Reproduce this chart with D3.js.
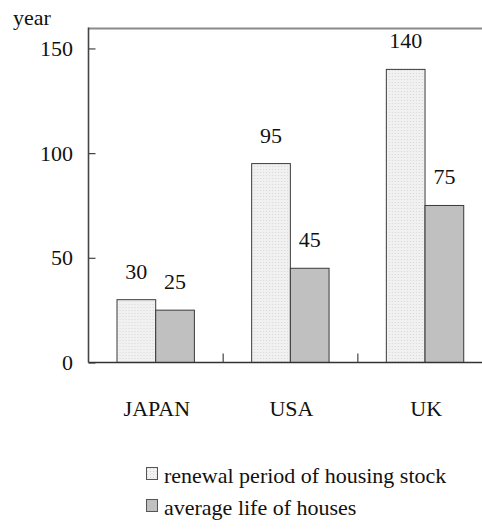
<!DOCTYPE html>
<html>
<head>
<meta charset="utf-8">
<script src="https://cdn.jsdelivr.net/npm/d3@7"></script>
<style>
  html, body { margin: 0; padding: 0; background: #fff; }
  svg { display: block; }
</style>
</head>
<body>
<svg id="chart" width="482" height="529" font-family="Liberation Serif" font-size="22"></svg>
<script>
// Housing renewal vs. average life, in years
const countries = ["JAPAN", "USA", "UK"];
const seriesNames = ["renewal period of housing stock", "average life of houses"];
const renewalPeriod = [30, 95, 140];
const averageLife = [25, 45, 75];
const yTicks = [0, 50, 100, 150];

const FONT = "Liberation Serif";

const svg = d3.select("#chart");

const plot = { left: 88.5, right: 492.5, top: 27.5, bottom: 362.5 };

const y = d3.scaleLinear().domain([0, 160]).range([plot.bottom, plot.top]);
const x0 = d3.scaleBand().domain(countries).range([plot.left, plot.right]);
const x1 = d3.scaleBand().domain(seriesNames).range([28.5, 28.5 + 77.4]);

// dotted fill for the renewal bars
const defs = svg.append("defs");
const pat = defs.append("pattern")
  .attr("id", "dots").attr("patternUnits", "userSpaceOnUse")
  .attr("width", 3).attr("height", 3);
pat.append("rect").attr("width", 3).attr("height", 3).attr("fill", "#f1f1f1");
pat.append("rect").attr("x", 1).attr("y", 1).attr("width", 1).attr("height", 1).attr("fill", "#d6d6d6");

const fills = ["url(#dots)", "#c0c0c0"];

function label(sel) {
  return sel.style("font-family", FONT, "important").style("font-size", "22px", "important").attr("fill", "#111");
}

// top frame line
svg.append("line")
  .attr("x1", plot.left).attr("x2", 482)
  .attr("y1", plot.top + 1).attr("y2", plot.top + 1)
  .attr("stroke", "#8a8a8a").attr("stroke-width", 2);

// bars
const rows = countries.map((c, i) => ({ country: c, values: [renewalPeriod[i], averageLife[i]] }));
const groups = svg.append("g").selectAll("g").data(rows).join("g")
  .attr("transform", d => `translate(${x0(d.country)},0)`);

groups.selectAll("rect").data(d => d.values.map((v, k) => ({ v, k }))).join("rect")
  .attr("x", d => x1(seriesNames[d.k]))
  .attr("y", d => y(d.v))
  .attr("width", x1.bandwidth())
  .attr("height", d => y(0) - y(d.v))
  .attr("fill", d => fills[d.k])
  .attr("stroke", "#3a3a3a").attr("stroke-width", 1);

groups.selectAll("text.val").data(d => d.values.map((v, k) => ({ v, k }))).join("text")
  .attr("class", "val")
  .attr("x", d => x1(seriesNames[d.k]) + x1.bandwidth() / 2)
  .attr("y", d => y(d.v) - 21)
  .attr("text-anchor", "middle")
  .call(label)
  .text(d => d.v);

// y axis ticks
const yAxis = svg.append("g").attr("transform", `translate(${plot.left},0)`)
  .call(d3.axisRight(y).tickValues(yTicks).tickSize(7).tickFormat(""));
yAxis.select(".domain").remove();
yAxis.selectAll(".tick line").attr("stroke", "#444").attr("stroke-width", 1.2);
svg.append("line")
  .attr("x1", plot.left).attr("x2", plot.left)
  .attr("y1", plot.top).attr("y2", plot.bottom)
  .attr("stroke", "#444").attr("stroke-width", 1.6);

svg.append("g").selectAll("text").data(yTicks).join("text")
  .attr("x", 73).attr("y", d => y(d) + 7.5)
  .attr("text-anchor", "end")
  .call(label)
  .text(d => d);

svg.append("text").attr("x", 13).attr("y", 25)
  .call(label).text("year");

// x axis with category separators
svg.append("line")
  .attr("x1", plot.left).attr("x2", 482)
  .attr("y1", plot.bottom).attr("y2", plot.bottom)
  .attr("stroke", "#333").attr("stroke-width", 1.6);
svg.append("g").selectAll("line").data(countries.slice(1)).join("line")
  .attr("x1", d => x0(d)).attr("x2", d => x0(d))
  .attr("y1", plot.bottom).attr("y2", plot.bottom - 9)
  .attr("stroke", "#444").attr("stroke-width", 1.2);

svg.append("g").selectAll("text").data(countries).join("text")
  .attr("x", d => x0(d) + x0.bandwidth() / 2 + 1)
  .attr("y", 416)
  .attr("text-anchor", "middle")
  .call(label)
  .text(d => d);

// legend
const legend = svg.append("g").selectAll("g").data(seriesNames).join("g")
  .attr("transform", (d, i) => `translate(146,${467 + i * 32})`);
legend.append("rect")
  .attr("x", 0.5).attr("y", 0.5).attr("width", 11).attr("height", 12)
  .attr("fill", (d, i) => fills[i])
  .attr("stroke", "#555").attr("stroke-width", 1);
legend.append("text")
  .attr("x", 18).attr("y", 16)
  .call(label)
  .text(d => d);
</script>
</body>
</html>
